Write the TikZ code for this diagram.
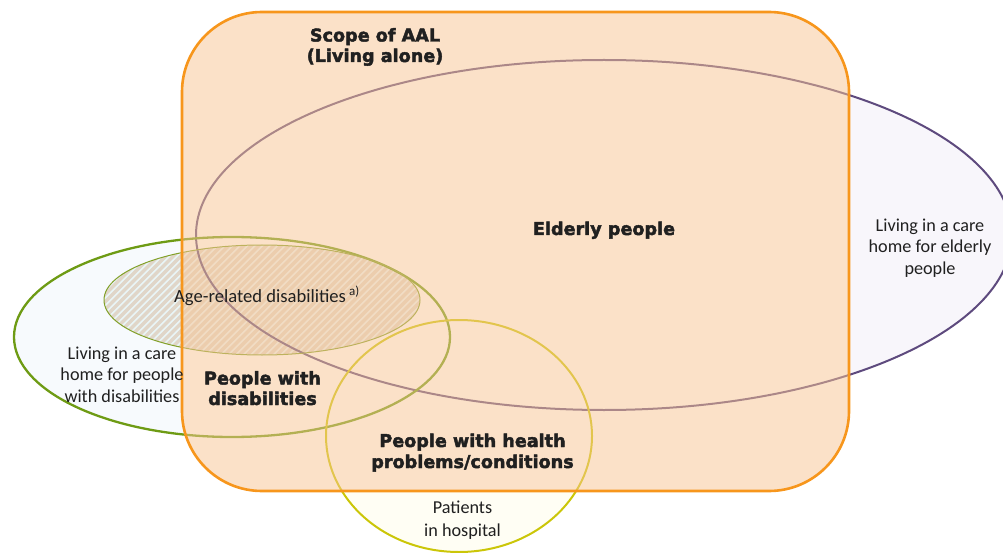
\documentclass[tikz,border=0pt]{standalone}
\usepackage{fontspec}
\setmainfont{Carlito}
\newfontfamily\hdfont{DejaVu Sans}[BoldFeatures={FakeBold=2.4}]
\definecolor{scopeline}{RGB}{247,150,28}
\definecolor{scopefill}{RGB}{249,197,147}
\definecolor{elderline}{RGB}{94,74,126}
\definecolor{elderfill}{RGB}{248,246,251}
\definecolor{disline}{RGB}{110,155,20}
\definecolor{disfill}{RGB}{247,250,253}
\definecolor{ageline}{RGB}{130,160,40}
\definecolor{agebase}{RGB}{233,245,246}
\definecolor{agestripe}{RGB}{224,214,200}
\definecolor{healthline}{RGB}{203,198,8}
\definecolor{healthfill}{RGB}{255,254,244}
\definecolor{textdark}{RGB}{32,32,32}
\tikzset{
  boldlabel/.style={font=\hdfont\bfseries\fontsize{17.6}{20.5}\selectfont, text=textdark, align=center, inner sep=0pt, anchor=base},
  plainlabel/.style={font=\fontsize{18.2}{21.5}\selectfont, text=textdark, align=center, inner sep=0pt, anchor=base},
  stripe/.style={draw=agestripe, line width=3.2pt},
  scopeshape/.style={rounded corners=80pt},
}
\begin{document}
\begin{tikzpicture}[x=1pt,y=-1pt]
\useasboundingbox (0,0) rectangle (1003,553);
% fills
\fill[elderfill] (604,235) ellipse [x radius=408, y radius=175];
\fill[disfill] (232,337) ellipse [x radius=218, y radius=100];
\fill[healthfill] (459,436) ellipse [x radius=133, y radius=116];
\fill[white, scopeshape] (182,12) rectangle (849,491);
% hatched age-related disabilities
\begin{scope}
  \clip (262,300) ellipse [x radius=158, y radius=55];
  \fill[agebase] (100,240) rectangle (425,360);
  \foreach \i in {0,...,62} {
    \draw[stripe] (-30+\i*7.5,362) -- ++(130,-130);
  }
\end{scope}
% outlines
\draw[elderline, line width=2pt] (604,235) ellipse [x radius=408, y radius=175];
\draw[disline, line width=2.3pt] (232,337) ellipse [x radius=218, y radius=100];
\draw[ageline, line width=1pt] (262,300) ellipse [x radius=158, y radius=55];
\draw[healthline, line width=2pt] (459,436) ellipse [x radius=133, y radius=116];
% scope of AAL
\fill[scopefill, fill opacity=0.5, scopeshape] (182,12) rectangle (849,491);
\draw[scopeline, line width=2.6pt, scopeshape] (182,12) rectangle (849,491);
% labels
\node[boldlabel] (scope) at (375,62) {Scope of AAL\\(Living alone)};
\node[boldlabel] (elderly) at (604,235) {Elderly people};
\node[boldlabel] (disab) at (262.5,405) {People with\\disabilities};
\node[boldlabel, font=\hdfont\bfseries\fontsize{17.6}{21}\selectfont] (health) at (472.5,468) {People with health\\problems/conditions};
\node[plainlabel] (carelder) at (930,274) {Living in a care\\home for elderly\\people};
\node[plainlabel] (caredis) at (122,402) {Living in a care\\home for people\\with disabilities};
\node[plainlabel, font=\fontsize{18.6}{21.5}\selectfont] (age) at (267,302) {Age-related disabilities\,\textsuperscript{a)}};
\node[plainlabel, font=\fontsize{18.2}{23}\selectfont] (hosp) at (462.5,536) {Patients\\in hospital};
\end{tikzpicture}
\end{document}
